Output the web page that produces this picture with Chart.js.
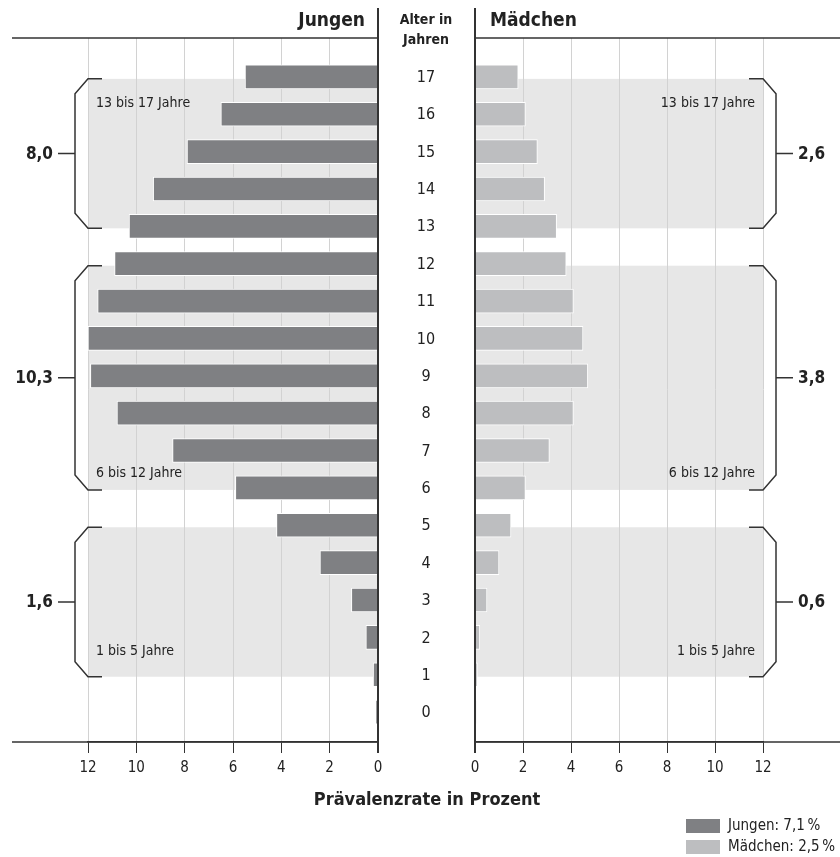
<!DOCTYPE html>
<html>
<head>
<meta charset="utf-8">
<script src="https://cdn.jsdelivr.net/npm/chart.js@4.4.1/dist/chart.umd.min.js"></script>
<style>
html, body { margin: 0; padding: 0; background: #fff; }
#wrap { position: relative; width: 840px; height: 857px; }
#wrap canvas { position: absolute; left: 0; top: 0; }
</style>
</head>
<body>
<div id="wrap">
  <canvas id="left" width="840" height="857"></canvas>
  <canvas id="right" width="840" height="857"></canvas>
</div>
<script>
var AGES = [0, 1, 2, 3, 4, 5, 6, 7, 8, 9, 10, 11, 12, 13, 14, 15, 16, 17];
var JUNGEN = [0.1, 0.2, 0.5, 1.1, 2.4, 4.2, 5.9, 8.5, 10.8, 11.9, 12.0, 11.6, 10.9, 10.3, 9.3, 7.9, 6.5, 5.5];
var MAEDCHEN = [0.05, 0.1, 0.2, 0.5, 1.0, 1.5, 2.1, 3.1, 4.1, 4.7, 4.5, 4.1, 3.8, 3.4, 2.9, 2.6, 2.1, 1.8];

var GROUP_NAMES = ["1 bis 5 Jahre", "6 bis 12 Jahre", "13 bis 17 Jahre"];
var GROUP_FROM = [1, 6, 13];
var GROUP_TO = [5, 12, 17];
var GROUP_JUNGEN = ["1,6", "10,3", "8,0"];
var GROUP_MAEDCHEN = ["0,6", "3,8", "2,6"];
// where the group caption sits, in age units
var GROUP_LABEL_AT = [1.63, 6.4, 16.3];

var X_MAX = 12;
var TOTAL_LABELS = ["Jungen: 7,1\u202f%", "Mädchen: 2,5\u202f%"];

var FONT = '"Liberation Sans Narrow", "DejaVu Sans Condensed", "Open Sans", sans-serif';
var DARK = '#333';
var TEXT = '#222';
var COL_J = '#7f8083';
var COL_M = '#bdbec0';
var BAND = '#e7e7e7';

Chart.defaults.font.family = FONT;
Chart.defaults.color = TEXT;

function points(values) {
  var out = [];
  for (var i = 0; i < AGES.length; i++) out.push({ x: values[i], y: AGES[i] });
  return out;
}

function font(size, bold) {
  return (bold ? 'bold ' : '') + size + 'px ' + FONT;
}

function decoPlugin(side) {
  // side: -1 = left panel (Jungen), 1 = right panel (Maedchen)
  return {
    id: 'deco' + side,
    beforeDraw: function(chart) {
      var ctx = chart.ctx, xs = chart.scales.x, ys = chart.scales.y;
      var x0 = xs.getPixelForValue(0), x12 = xs.getPixelForValue(X_MAX);
      ctx.save();
      ctx.fillStyle = BAND;
      for (var g = 0; g < GROUP_FROM.length; g++) {
        var y1 = ys.getPixelForValue(GROUP_TO[g]) + 2;
        var y2 = ys.getPixelForValue(GROUP_FROM[g]) + 2;
        ctx.fillRect(Math.min(x0, x12), y1, Math.abs(x12 - x0), y2 - y1);
      }
      ctx.restore();
    },
    afterDraw: function(chart) {
      var ctx = chart.ctx, xs = chart.scales.x, ys = chart.scales.y;
      var x0 = xs.getPixelForValue(0), x12 = xs.getPixelForValue(X_MAX);
      var top = chart.chartArea.top, bottom = chart.chartArea.bottom;
      var outer = side < 0 ? 12 : chart.width;
      ctx.save();
      ctx.strokeStyle = DARK;
      ctx.lineWidth = 1.5;
      ctx.beginPath();
      ctx.moveTo(outer, top); ctx.lineTo(x0, top);
      ctx.moveTo(outer, bottom); ctx.lineTo(x0, bottom);
      ctx.stroke();
      ctx.lineWidth = 2;
      ctx.beginPath();
      ctx.moveTo(x0, 8); ctx.lineTo(x0, bottom + 11);
      ctx.stroke();

      // brackets + group values + captions
      var vals = side < 0 ? GROUP_JUNGEN : GROUP_MAEDCHEN;
      for (var g = 0; g < GROUP_FROM.length; g++) {
        var y1 = ys.getPixelForValue(GROUP_TO[g]) + 2;
        var y2 = ys.getPixelForValue(GROUP_FROM[g]) + 2;
        var ym = (y1 + y2) / 2;
        var inner = x12 - side * 14, spine = x12 + side * 13;
        ctx.lineWidth = 1.5;
        ctx.beginPath();
        ctx.moveTo(inner, y1); ctx.lineTo(x12, y1);
        ctx.lineTo(spine, y1 + 15); ctx.lineTo(spine, y2 - 15);
        ctx.lineTo(x12, y2); ctx.lineTo(inner, y2);
        ctx.moveTo(spine, ym); ctx.lineTo(spine + side * 17, ym);
        ctx.stroke();

        ctx.fillStyle = TEXT;
        ctx.textBaseline = 'middle';
        ctx.font = font(17, true);
        ctx.textAlign = side < 0 ? 'right' : 'left';
        ctx.fillText(vals[g], spine + side * 22, ym + 1);

        ctx.font = font(14, false);
        ctx.textAlign = side < 0 ? 'left' : 'right';
        ctx.fillText(GROUP_NAMES[g], x12 - side * 8, ys.getPixelForValue(GROUP_LABEL_AT[g]));
      }

      ctx.fillStyle = TEXT;
      ctx.textBaseline = 'middle';
      if (side < 0) {
        ctx.font = font(19, true);
        ctx.textAlign = 'right';
        ctx.fillText('Jungen', x0 - 13, 21);
        var mid = x0 + 48;
        ctx.font = font(14, true);
        ctx.textAlign = 'center';
        ctx.fillText('Alter in', mid, 20);
        ctx.fillText('Jahren', mid, 40);
        ctx.font = font(16, false);
        for (var i = 0; i < AGES.length; i++) {
          ctx.fillText(String(AGES[i]), mid, ys.getPixelForValue(AGES[i]) + 1);
        }
      } else {
        ctx.font = font(19, true);
        ctx.textAlign = 'left';
        ctx.fillText('Mädchen', x0 + 15, 21);
        ctx.font = font(18, true);
        ctx.textAlign = 'center';
        ctx.fillText('Prävalenzrate in Prozent', 427, 800);
        var cols = [COL_J, COL_M];
        ctx.font = font(15, false);
        ctx.textAlign = 'left';
        for (var k = 0; k < 2; k++) {
          var yy = 826 + k * 21;
          ctx.fillStyle = cols[k];
          ctx.fillRect(686, yy - 7, 34, 14);
          ctx.fillStyle = TEXT;
          ctx.fillText(TOTAL_LABELS[k], 728, yy);
        }
      }
      ctx.restore();
    }
  };
}

function makeChart(id, values, color, side) {
  var pad = side < 0 ? { left: 88, right: 462 } : { left: 475, right: 77 };
  return new Chart(document.getElementById(id), {
    type: 'bar',
    data: {
      datasets: [{
        label: side < 0 ? 'Jungen' : 'Mädchen',
        data: points(values),
        backgroundColor: color,
        borderColor: '#fff',
        borderWidth: 1,
        barThickness: 24
      }]
    },
    options: {
      indexAxis: 'y',
      responsive: false,
      animation: false,
      devicePixelRatio: 1,
      layout: { padding: { top: 38, bottom: 75, left: pad.left, right: pad.right } },
      plugins: { legend: { display: false }, tooltip: { enabled: false } },
      scales: {
        x: {
          type: 'linear',
          min: 0,
          max: X_MAX,
          reverse: side < 0,
          afterFit: function(s) { s.height = 40; },
          ticks: { stepSize: 2, padding: 6, color: TEXT, font: { size: 15 } },
          grid: {
            color: function(c) { return c.tick && c.tick.value === 0 ? 'rgba(0,0,0,0)' : '#d2d2d2'; },
            tickColor: DARK,
            tickLength: 11,
            lineWidth: 1
          },
          border: { display: true, color: DARK, width: 1.5 }
        },
        y: {
          type: 'linear',
          min: -0.8,
          max: 18.04,
          offset: false,
          display: false
        }
      }
    },
    plugins: [decoPlugin(side)]
  });
}

makeChart('left', JUNGEN, COL_J, -1);
makeChart('right', MAEDCHEN, COL_M, 1);
</script>
</body>
</html>
